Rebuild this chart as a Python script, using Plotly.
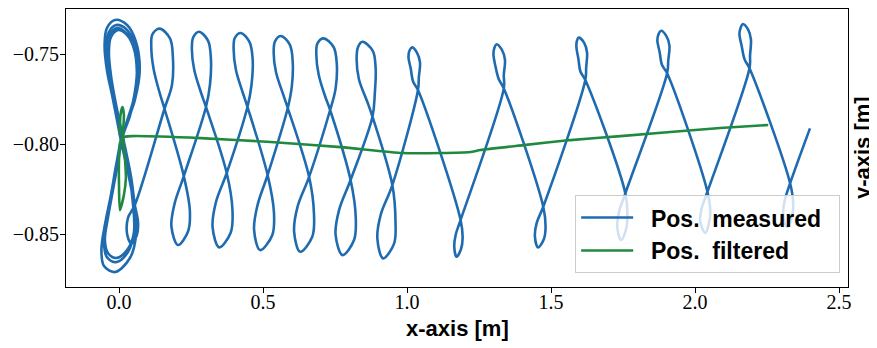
import plotly.graph_objects as go

# Measured position: hovering figure-eight around the start (several cycles)
hover_x = [
    0.007, 0.031, 0.055, 0.072, 0.059, 0.028, -0.014, -0.042, -0.050, -0.042, -0.024, -0.007,
    0.010, 0.031, 0.052, 0.059, 0.038, -0.014, -0.052, -0.061, -0.049, -0.028, -0.010,
    0.007, 0.031, 0.052, 0.066, 0.052, 0.021, -0.010, -0.035, -0.042, -0.035, -0.021, -0.003,
    0.014, 0.035, 0.049, 0.052, 0.031, -0.010, -0.042, -0.052, -0.042, -0.024, -0.007,
    0.010, 0.035, 0.052, 0.062, 0.049, 0.017, -0.007, -0.031, -0.038, -0.031, -0.017, 0.000,
    0.017, 0.038, 0.052, 0.052, 0.028, -0.010, -0.038, -0.049, -0.038, -0.021, -0.003,
    0.010, 0.038, 0.055, 0.066, 0.052, 0.021, -0.003, -0.028, -0.035, -0.028, -0.014, 0.003,
    0.021, 0.042, 0.055, 0.066, 0.062, 0.043, 0.029, 0.031, 0.055,
]
hover_y = [
    -0.7978, -0.7867, -0.7756, -0.7589, -0.7433, -0.7339, -0.7311, -0.7356, -0.7450, -0.7589, -0.7728, -0.7867,
    -0.8006, -0.8156, -0.8339, -0.8506, -0.8633, -0.8711, -0.8678, -0.8589, -0.8450, -0.8283, -0.8117,
    -0.7978, -0.7856, -0.7744, -0.7589, -0.7439, -0.7356, -0.7339, -0.7378, -0.7461, -0.7600, -0.7739, -0.7878,
    -0.8011, -0.8167, -0.8339, -0.8489, -0.8600, -0.8656, -0.8628, -0.8550, -0.8422, -0.8267, -0.8106,
    -0.7972, -0.7850, -0.7739, -0.7600, -0.7456, -0.7372, -0.7356, -0.7394, -0.7478, -0.7611, -0.7744, -0.7883,
    -0.8017, -0.8172, -0.8350, -0.8494, -0.8589, -0.8633, -0.8606, -0.8533, -0.8406, -0.8256, -0.8100,
    -0.7972, -0.7844, -0.7733, -0.7600, -0.7461, -0.7383, -0.7367, -0.7406, -0.7489, -0.7617, -0.7750, -0.7883,
    -0.8017, -0.8183, -0.8339, -0.8433, -0.8506, -0.8552, -0.8506, -0.8411, -0.8339,
]

# Measured position while travelling in +x (top loop, bottom loop, ...)
travel_x = [
    0.158, 0.184, 0.187, 0.177, 0.141, 0.116, 0.112, 0.120, 0.141, 0.158,
    0.225, 0.246, 0.240, 0.205, 0.182, 0.193, 0.225,
    0.302, 0.316, 0.319, 0.309, 0.278, 0.258, 0.253, 0.261, 0.284, 0.302,
    0.374, 0.394, 0.388, 0.348, 0.325, 0.336, 0.374,
    0.446, 0.460, 0.464, 0.453, 0.423, 0.402, 0.398, 0.406, 0.429, 0.446,
    0.516, 0.538, 0.532, 0.490, 0.469, 0.481, 0.516,
    0.586, 0.600, 0.603, 0.593, 0.562, 0.542, 0.537, 0.545, 0.569, 0.586,
    0.660, 0.677, 0.671, 0.629, 0.608, 0.620, 0.660,
    0.733, 0.752, 0.756, 0.745, 0.710, 0.689, 0.685, 0.693, 0.715, 0.733,
    0.804, 0.822, 0.816, 0.776, 0.752, 0.764, 0.804,
    0.880, 0.888, 0.891, 0.881, 0.845, 0.830, 0.825, 0.833, 0.862, 0.880,
    0.949, 0.960, 0.955, 0.917, 0.897, 0.909, 0.949,
    1.038, 1.041, 1.045, 1.034, 1.018, 1.009, 1.005, 1.013, 1.021, 1.038,
    1.186, 1.193, 1.187, 1.172, 1.164, 1.169, 1.186,
    1.336, 1.336, 1.340, 1.329, 1.311, 1.304, 1.300, 1.307, 1.319, 1.336,
    1.473, 1.481, 1.475, 1.455, 1.444, 1.450, 1.473,
    1.619, 1.622, 1.625, 1.615, 1.596, 1.590, 1.588, 1.595, 1.602, 1.619,
    1.758, 1.765, 1.759, 1.743, 1.730, 1.736, 1.758,
    1.903, 1.907, 1.911, 1.900, 1.882, 1.874, 1.869, 1.877, 1.885, 1.903,
    2.043, 2.053, 2.047, 2.036, 2.018, 2.023, 2.043,
    2.189, 2.191, 2.194, 2.184, 2.166, 2.159, 2.154, 2.162, 2.172, 2.189,
    2.330, 2.341, 2.335, 2.319, 2.306, 2.311, 2.330,
    2.399,
]
travel_y = [
    -0.7804, -0.7671, -0.7515, -0.7413, -0.7359, -0.7391, -0.7457, -0.7582, -0.7715, -0.7804,
    -0.8178, -0.8369, -0.8484, -0.8561, -0.8458, -0.8331, -0.8178,
    -0.7794, -0.7669, -0.7523, -0.7426, -0.7376, -0.7406, -0.7468, -0.7586, -0.7711, -0.7794,
    -0.8161, -0.8368, -0.8491, -0.8574, -0.8463, -0.8326, -0.8161,
    -0.7794, -0.7672, -0.7528, -0.7433, -0.7383, -0.7411, -0.7472, -0.7589, -0.7711, -0.7794,
    -0.8172, -0.8381, -0.8506, -0.8589, -0.8477, -0.8339, -0.8172,
    -0.7800, -0.7680, -0.7540, -0.7448, -0.7400, -0.7428, -0.7488, -0.7600, -0.7720, -0.7800,
    -0.8182, -0.8390, -0.8515, -0.8598, -0.8486, -0.8348, -0.8182,
    -0.7811, -0.7692, -0.7552, -0.7461, -0.7413, -0.7441, -0.7501, -0.7612, -0.7732, -0.7811,
    -0.8200, -0.8408, -0.8533, -0.8617, -0.8504, -0.8367, -0.8200,
    -0.7848, -0.7723, -0.7577, -0.7482, -0.7432, -0.7461, -0.7523, -0.7640, -0.7765, -0.7848,
    -0.8228, -0.8432, -0.8553, -0.8635, -0.8525, -0.8391, -0.8228,
    -0.7700, -0.7629, -0.7546, -0.7491, -0.7463, -0.7479, -0.7515, -0.7582, -0.7653, -0.7700,
    -0.8422, -0.8524, -0.8586, -0.8626, -0.8571, -0.8504, -0.8422,
    -0.7691, -0.7617, -0.7532, -0.7476, -0.7446, -0.7463, -0.7500, -0.7568, -0.7642, -0.7691,
    -0.8348, -0.8461, -0.8529, -0.8574, -0.8513, -0.8439, -0.8348,
    -0.7644, -0.7574, -0.7492, -0.7438, -0.7409, -0.7426, -0.7461, -0.7527, -0.7597, -0.7644,
    -0.8274, -0.8404, -0.8482, -0.8533, -0.8463, -0.8378, -0.8274,
    -0.7607, -0.7536, -0.7453, -0.7399, -0.7371, -0.7387, -0.7423, -0.7489, -0.7560, -0.7607,
    -0.8265, -0.8380, -0.8448, -0.8494, -0.8432, -0.8357, -0.8265,
    -0.7579, -0.7506, -0.7419, -0.7363, -0.7333, -0.7351, -0.7387, -0.7457, -0.7530, -0.7579,
    -0.8218, -0.8339, -0.8411, -0.8459, -0.8394, -0.8315, -0.8218,
    -0.7913,
]

# Filtered position
filt_x = [0.003, 0.005, 0.012, 0.017, 0.014, 0.021, 0.024, 0.017, 0.003, 0.000, 0.000, 0.004,
          0.015, 0.042, 0.284, 0.527, 0.770, 0.985, 1.117, 1.220, 1.255, 1.404, 1.567,
          1.741, 2.087, 2.254]
filt_y = [-0.7950, -0.7839, -0.7794, -0.7839, -0.7950, -0.8089, -0.8189, -0.8283, -0.8367,
          -0.8228, -0.8089, -0.7990, -0.7962, -0.7956, -0.7967, -0.7989, -0.8017, -0.8050,
          -0.8050, -0.8044, -0.8033, -0.8006, -0.7978, -0.7956, -0.7911, -0.7894]

x_ticks = [0.0, 0.5, 1.0, 1.5, 2.0, 2.5]
y_ticks = [-0.85, -0.80, -0.75]

BLUE = "#1f6bb0"
GREEN = "#1f8a3f"
TICK_FONT = dict(family="Liberation Serif", size=20, color="black")
LABEL_FONT = dict(family="Liberation Sans", size=22, color="black", weight="bold")
LEGEND_FONT = dict(family="Liberation Sans", size=23, color="black", weight="bold")
NB = "\u00a0"

fig = go.Figure()
fig.add_trace(go.Scatter(x=hover_x + travel_x, y=hover_y + travel_y, mode="lines",
                         name=NB * 2 + "Pos." + NB * 2 + "measured" + NB * 2,
                         line=dict(color=BLUE, width=2.6, shape="spline", smoothing=1.0)))
fig.add_trace(go.Scatter(x=filt_x, y=filt_y, mode="lines",
                         name=NB * 2 + "Pos." + NB * 2 + "filtered",
                         line=dict(color=GREEN, width=2.6, shape="spline", smoothing=0.6)))

# the page body adds an 8 px offset, so margins are shifted to compensate
fig.update_layout(
    width=877, height=348,
    margin=dict(l=58, r=37, t=1, b=69),
    plot_bgcolor="white", paper_bgcolor="white",
    legend=dict(x=0.99, y=0.05, xanchor="right", yanchor="bottom",
                bgcolor="rgba(255,255,255,0.8)", bordercolor="#cccccc", borderwidth=1,
                font=LEGEND_FONT, itemwidth=52),
    annotations=[
        dict(text="x-axis [m]", xref="paper", yref="paper", x=0.5, y=-0.148,
             xanchor="center", yanchor="middle", showarrow=False, font=LABEL_FONT),
        dict(text="y-axis [m]", xref="paper", yref="paper", x=1.018, y=0.5,
             xanchor="center", yanchor="middle", textangle=-90, showarrow=False,
             font=LABEL_FONT),
    ],
)
fig.update_xaxes(range=[-0.184, 2.531], tickvals=x_ticks, tickformat=".1f",
                 ticks="outside", ticklen=5, tickcolor="black", tickfont=TICK_FONT,
                 ticklabelstandoff=-8,
                 showline=True, linecolor="black", linewidth=1, mirror=True,
                 showgrid=False, zeroline=False)
fig.update_yaxes(range=[-0.8794, -0.725], tickvals=y_ticks, tickformat=".2f",
                 ticks="outside", ticklen=5, tickcolor="black", tickfont=TICK_FONT,
                 ticklabelstandoff=-3,
                 showline=True, linecolor="black", linewidth=1, mirror=True,
                 showgrid=False, zeroline=False)

fig.write_html("out.html")
